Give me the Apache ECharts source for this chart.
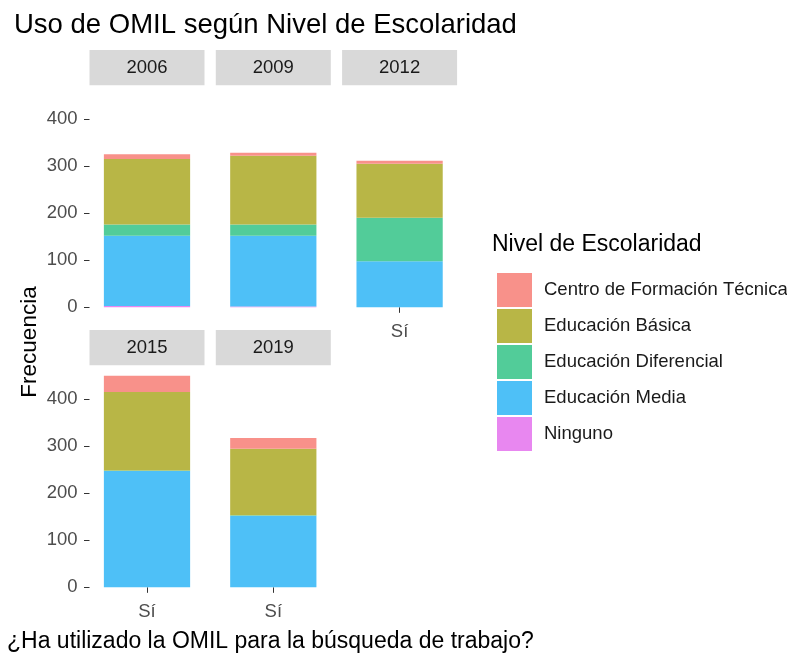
<!DOCTYPE html>
<html>
<head>
<meta charset="utf-8">
<script src="https://cdn.jsdelivr.net/npm/echarts@6/dist/echarts.min.js"></script>
<style>
  html, body { margin: 0; padding: 0; background: #fff; }
  #main { width: 787px; height: 654px; }
</style>
</head>
<body>
<div id="main"></div>
<script>
// datos
var years = ['2006', '2009', '2012', '2015', '2019'];
var categories = ['Sí'];
var niveles = ['Centro de Formación Técnica', 'Educación Básica', 'Educación Diferencial', 'Educación Media', 'Ninguno'];
var ninguno = [3, 2, 0, 0, 0];
var media = [149, 150, 98, 247, 152];
var diferencial = [24, 24, 92, 1, 1];
var basica = [139, 146, 115, 167, 141];
var cft = [10, 6, 6, 34, 23];
var yTicks = [0, 100, 200, 300, 400];

var colores = {
    'Centro de Formación Técnica': '#F8918A',
    'Educación Básica': '#B8B646',
    'Educación Diferencial': '#52CC99',
    'Educación Media': '#4EC0F7',
    'Ninguno': '#E887F0'
};
// orden de apilado (de abajo hacia arriba)
var pila = [
    ['Ninguno', ninguno],
    ['Educación Media', media],
    ['Educación Diferencial', diferencial],
    ['Educación Básica', basica],
    ['Centro de Formación Técnica', cft]
];

var font = "'Liberation Sans', Arial, Helvetica, sans-serif";
var panelW = 115, panelH = 232.6, gapX = 11.3;
var pos = [
    { left: 89.5, top: 85.3 },
    { left: 89.5 + panelW + gapX, top: 85.3 },
    { left: 89.5 + 2 * (panelW + gapX), top: 85.3 },
    { left: 89.5, top: 365.3 },
    { left: 89.5 + panelW + gapX, top: 365.3 }
];
var ymax = 449;
var grids = [], xAxes = [], yAxes = [], series = [], graphics = [];

years.forEach(function (yr, i) {
    var p = pos[i];
    grids.push({ left: p.left, top: p.top, width: panelW, height: panelH });
    var showX = (i >= 2);
    var showY = (i === 0 || i === 3);
    xAxes.push({
        type: 'category', gridIndex: i, data: categories,
        axisLine: { show: false },
        axisTick: { show: showX, alignWithLabel: true, length: 5.5, lineStyle: { color: '#333333', width: 1 } },
        axisLabel: { show: showX, margin: 5, fontSize: 18.5, color: '#4D4D4D', fontFamily: font }
    });
    yAxes.push({
        type: 'value', gridIndex: i, min: -ymax * 0.05, max: ymax * 1.05,
        splitLine: { show: false },
        axisLine: { show: false },
        axisTick: { show: showY, length: 5.5, customValues: yTicks, lineStyle: { color: '#333333', width: 1 } },
        axisLabel: { show: showY, customValues: yTicks, margin: 12, fontSize: 18.5, color: '#4D4D4D', fontFamily: font }
    });
    pila.forEach(function (s) {
        series.push({
            name: s[0], type: 'bar', xAxisIndex: i, yAxisIndex: i,
            stack: 'panel' + i, barWidth: '75%',
            itemStyle: { color: colores[s[0]] },
            data: [s[1][i]]
        });
    });
    // etiqueta de faceta
    graphics.push({
        type: 'rect', shape: { x: p.left, y: p.top - 35.3, width: panelW, height: 35.3 },
        style: { fill: '#D9D9D9' }
    });
    graphics.push({
        type: 'text', x: p.left + panelW / 2, y: p.top - 17.6,
        style: { text: yr, fill: '#1A1A1A', font: '18.5px ' + font, textAlign: 'center', textVerticalAlign: 'middle' }
    });
});

graphics.push({
    type: 'text', x: 30, y: 342, rotation: Math.PI / 2,
    style: { text: 'Frecuencia', fill: '#000', font: '22.5px ' + font, textAlign: 'center', textVerticalAlign: 'middle' }
});
graphics.push({
    type: 'text', x: 7, y: 642,
    style: { text: '¿Ha utilizado la OMIL para la búsqueda de trabajo?', fill: '#000', font: '23px ' + font, textAlign: 'left', textVerticalAlign: 'middle' }
});
graphics.push({
    type: 'text', x: 492, y: 245,
    style: { text: 'Nivel de Escolaridad', fill: '#000', font: '23px ' + font, textAlign: 'left', textVerticalAlign: 'middle' }
});

var option = {
    backgroundColor: '#fff',
    animation: false,
    title: {
        text: 'Uso de OMIL según Nivel de Escolaridad',
        left: 9, top: 6,
        textStyle: { fontSize: 27.5, fontWeight: 'normal', color: '#000', fontFamily: font }
    },
    legend: {
        data: niveles, orient: 'vertical', left: 492, top: 268,
        icon: 'rect', itemWidth: 35, itemHeight: 34, itemGap: 2,
        selectedMode: false,
        textStyle: { fontSize: 18.5, color: '#1A1A1A', fontFamily: font, padding: [0, 0, 0, 7] }
    },
    grid: grids,
    xAxis: xAxes,
    yAxis: yAxes,
    series: series,
    graphic: graphics
};

var myChart = echarts.init(document.getElementById('main'));
myChart.setOption(option);
</script>
</body>
</html>
